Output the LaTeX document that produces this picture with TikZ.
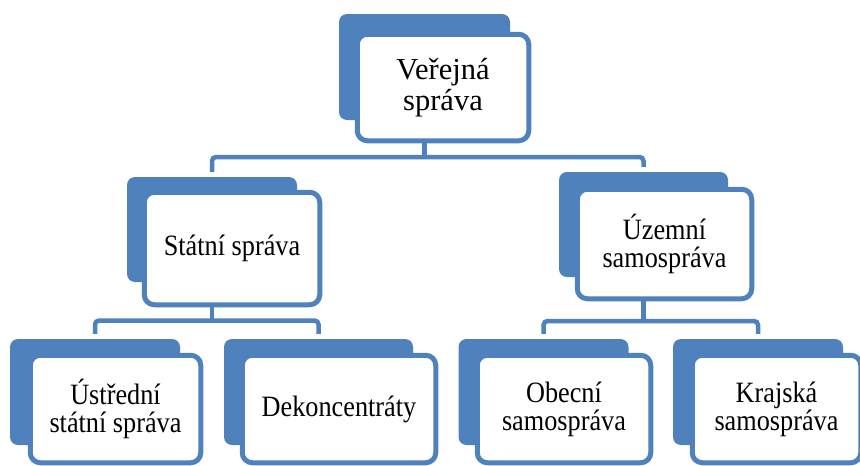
\documentclass[tikz,border=0pt]{standalone}
\usepackage{fontspec}
\setmainfont{Liberation Serif}
\newfontfamily\condserif[FakeStretch=0.89]{Liberation Serif}
\usetikzlibrary{calc}
\definecolor{sblue}{RGB}{79,129,189}
\tikzset{
  backbox/.style={fill=sblue, rounded corners=8pt, inner sep=0pt},
  frontbox/.style={draw=sblue, line width=5pt, fill=white, rounded corners=10pt, inner sep=0pt, align=center, text=black},
  bigtext/.style={font=\fontsize{30.5}{31}\selectfont},
  smalltext/.style={font=\condserif\fontsize{29.5}{28}\selectfont},
  conn/.style={draw=sblue, line width=4.5pt, rounded corners=4pt},
}
\begin{document}
\begin{tikzpicture}[x=1pt, y=-1pt]
\useasboundingbox (0,0) rectangle (860,466);
% top
\node[backbox, minimum width=171pt, minimum height=106pt] (topback) at (424.5,67) {};
\node[frontbox, bigtext, minimum width=171.5pt, minimum height=106.5pt] (topfront) at (443,87.5) {Veřejná\\správa};
% level 2
\node[backbox, minimum width=170pt, minimum height=105pt] (statback) at (212,229.5) {};
\node[frontbox, smalltext, minimum width=175.5pt, minimum height=112.5pt] (statfront) at (232,248.5) {Státní správa};
\node[backbox, minimum width=169pt, minimum height=105pt] (uzback) at (643.5,224.5) {};
\node[frontbox, smalltext, minimum width=174.5pt, minimum height=109.5pt] (uzfront) at (664.5,244) {Územní\\samospráva};
% level 3
\node[backbox, minimum width=170pt, minimum height=106pt] (ustback) at (95,392) {};
\node[frontbox, smalltext, minimum width=170.5pt, minimum height=107.5pt] (ustfront) at (115.5,409) {Ústřední\\státní správa};
\node[backbox, minimum width=189pt, minimum height=106pt] (dekback) at (318.5,392) {};
\node[frontbox, smalltext, minimum width=193.5pt, minimum height=107.5pt] (dekfront) at (339,409) {Dekoncentráty};
\node[backbox, minimum width=170pt, minimum height=106pt] (obback) at (543.5,392) {};
\node[frontbox, smalltext, minimum width=173.5pt, minimum height=107.5pt] (obfront) at (564,409) {Obecní\\samospráva};
\node[backbox, minimum width=170pt, minimum height=106pt] (krback) at (758,392) {};
\node[frontbox, smalltext, minimum width=168.5pt, minimum height=107.5pt] (krfront) at (776.5,409) {Krajská\\samospráva};
% connectors
\path (topback.center |- 0,157) coordinate (j1);
\path (statback.center |- 0,320.5) coordinate (j2);
\path (uzback.center |- 0,321) coordinate (j3);
\draw[conn] (topback.center |- topfront.south) -- (j1);
\draw[conn] ([yshift=5pt]statback.north) |- (j1) -| ([yshift=5pt]uzback.north);
\draw[conn] (statback.center |- statfront.south) -- (j2);
\draw[conn] ([yshift=5pt]ustback.north) |- (j2) -| ([yshift=5pt]dekback.north);
\draw[conn] (uzback.center |- uzfront.south) -- (j3);
\draw[conn] ([yshift=5pt]obback.north) |- (j3) -| ([yshift=5pt]krback.north);
\end{tikzpicture}
\end{document}
